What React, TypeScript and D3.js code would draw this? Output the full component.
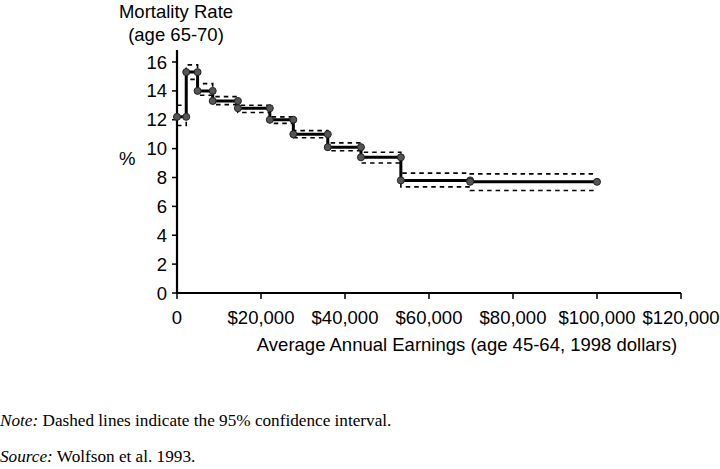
import React from "react";
import * as d3 from "d3";

const breaks = [0, 2200, 4900, 8500, 14500, 22100, 27700, 35900, 43800, 53300, 69800, 100000];
const rates = [12.2, 15.3, 14.0, 13.3, 12.8, 12.0, 11.0, 10.1, 9.4, 7.8, 7.7];
const upper = [13.0, 15.8, 14.5, 13.6, 13.0, 12.2, 11.25, 10.4, 9.75, 8.3, 8.25];
const lower = [11.6, 14.8, 13.7, 13.05, 12.5, 11.75, 10.75, 9.85, 9.0, 7.35, 7.1];
const xTicks = [0, 20000, 40000, 60000, 80000, 100000, 120000];
const yTicks = [0, 2, 4, 6, 8, 10, 12, 14, 16];

const W = 720;
const H = 469;

export default function App() {
  const x = d3.scaleLinear().domain([0, 120000]).range([177, 681]);
  const y = d3.scaleLinear().domain([0, 16]).range([293, 62]);
  const fmtX = (v: number) => (v === 0 ? "0" : "$" + d3.format(",")(v));

  const stepPts = (vals: number[]) => {
    const pts: [number, number][] = [];
    vals.forEach((v, i) => {
      pts.push([x(breaks[i]), y(v)]);
      pts.push([x(breaks[i + 1]), y(v)]);
    });
    return pts;
  };
  const line = d3.line();
  const mainPts = stepPts(rates);
  const font = "Liberation Sans, Arial, Helvetica, sans-serif";
  const serif = "Liberation Serif, Times New Roman, serif";
  const fs = 18.5;

  return (
    <svg width={W} height={H} style={{ position: "absolute", left: 0, top: 0, background: "#fff" }}>
      {/* CI */}
      <path d={line(stepPts(upper)) || ""} fill="none" stroke="#000" strokeWidth={1.6} strokeDasharray="4.5,4" />
      <path d={line(stepPts(lower)) || ""} fill="none" stroke="#000" strokeWidth={1.6} strokeDasharray="4.5,4" />
      {/* axes */}
      <line x1={177} x2={177} y1={50} y2={294} stroke="#000" strokeWidth={2.2} />
      <line x1={176} x2={681} y1={293} y2={293} stroke="#000" strokeWidth={2.2} />
      {yTicks.map((t) => (
        <g key={"y" + t}>
          <line x1={172} x2={177} y1={y(t)} y2={y(t)} stroke="#000" strokeWidth={1.5} />
          <text x={167} y={y(t) + 6.5} textAnchor="end" fontFamily={font} fontSize={fs}>
            {t}
          </text>
        </g>
      ))}
      {xTicks.map((t) => (
        <g key={"x" + t}>
          <line x1={x(t)} x2={x(t)} y1={293} y2={299} stroke="#000" strokeWidth={1.5} />
          <text x={x(t)} y={324} textAnchor="middle" fontFamily={font} fontSize={fs}>
            {fmtX(t)}
          </text>
        </g>
      ))}
      {/* main step line */}
      <path d={line(mainPts) || ""} fill="none" stroke="#000" strokeWidth={3} />
      {mainPts.map((p, i) => (
        <circle key={"c" + i} cx={p[0]} cy={p[1]} r={3.5} fill="#555" stroke="#222" strokeWidth={1} />
      ))}
      {/* titles */}
      <text x={176} y={18} textAnchor="middle" fontFamily={font} fontSize={fs}>Mortality Rate</text>
      <text x={176} y={41} textAnchor="middle" fontFamily={font} fontSize={fs}>(age 65-70)</text>
      <text x={119} y={165} fontFamily={font} fontSize={fs}>%</text>
      <text x={467} y={351} textAnchor="middle" fontFamily={font} fontSize={fs}>
        Average Annual Earnings (age 45-64, 1998 dollars)
      </text>
      <text x={0} y={426} fontFamily={serif} fontSize={17.2}>
        <tspan fontStyle="italic">Note:</tspan> Dashed lines indicate the 95% confidence interval.
      </text>
      <text x={0} y={462} fontFamily={serif} fontSize={17.2}>
        <tspan fontStyle="italic">Source:</tspan> Wolfson et al. 1993.
      </text>
    </svg>
  );
}
